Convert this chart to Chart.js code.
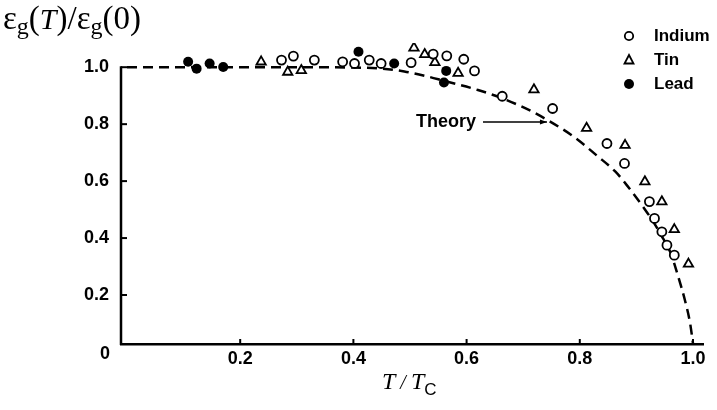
<!DOCTYPE html>
<html>
<head>
<meta charset="utf-8">
<script src="https://cdn.jsdelivr.net/npm/chart.js@4.4.0/dist/chart.umd.min.js"></script>
<style>
  html, body { margin: 0; padding: 0; background: #fff; }
</style>
</head>
<body>
<canvas id="gapchart" width="717" height="410"></canvas>
<script>
// reduced temperature T/Tc and gap ratio Eg(T)/Eg(0)
var indiumT   = [0.273, 0.294, 0.331, 0.381, 0.402, 0.428, 0.449, 0.502, 0.541, 0.565, 0.595, 0.614, 0.663, 0.752, 0.848, 0.879, 0.923, 0.932, 0.945, 0.954, 0.967];
var indiumGap = [1.025, 1.039, 1.025, 1.019, 1.013, 1.025, 1.013, 1.016, 1.046, 1.040, 1.028, 0.987, 0.898, 0.855, 0.732, 0.662, 0.528, 0.469, 0.422, 0.375, 0.340];

var tinT   = [0.237, 0.284, 0.308, 0.507, 0.526, 0.544, 0.585, 0.719, 0.812, 0.880, 0.915, 0.945, 0.967, 0.992];
var tinGap = [1.019, 0.983, 0.989, 1.068, 1.045, 1.017, 0.979, 0.921, 0.786, 0.726, 0.598, 0.528, 0.430, 0.309];

var leadT   = [0.108, 0.123, 0.146, 0.170, 0.409, 0.472, 0.564, 0.560];
var leadGap = [1.019, 0.995, 1.013, 1.001, 1.054, 1.013, 0.987, 0.946];

// dashed BCS curve
var theoryT   = [0, 0.1, 0.2, 0.3, 0.4, 0.45, 0.49, 0.53, 0.56, 0.62, 0.66, 0.71, 0.745, 0.79, 0.83, 0.863, 0.883, 0.916, 0.93, 0.942, 0.96, 0.974, 0.986, 0.995, 1.0];
var theoryGap = [1, 1, 1, 1, 0.999, 0.995, 0.985, 0.968, 0.952, 0.92, 0.893, 0.85, 0.812, 0.755, 0.69, 0.633, 0.586, 0.498, 0.457, 0.416, 0.35, 0.264, 0.18, 0.1, 0.03];

var xTicks = [0.2, 0.4, 0.6, 0.8, 1.0];
var yTicks = [0.2, 0.4, 0.6, 0.8, 1.0];

var seriesNames = ["Indium", "Tin", "Lead"];

function pts(xs, ys) {
  return xs.map(function (x, i) { return { x: x, y: ys[i] }; });
}

var tickFont = { family: "Liberation Sans", size: 18, weight: "bold" };

// axis line, titles, legend, label and inner tick marks
var extras = {
  id: "extras",
  afterDraw: function (chart) {
    var ctx = chart.ctx;
    var xs = chart.scales.x, ys = chart.scales.y;
    var area = chart.chartArea;
    var top = ys.getPixelForValue(1.0);
    ctx.save();
    ctx.strokeStyle = "#000";
    ctx.fillStyle = "#000";

    // y axis stops at 1.0
    ctx.lineWidth = 2.5;
    ctx.beginPath(); ctx.moveTo(area.left, area.bottom + 1); ctx.lineTo(area.left, top - 1); ctx.stroke();

    // tick marks pointing into the plot
    ctx.lineWidth = 2;
    xTicks.forEach(function (v) {
      var px = xs.getPixelForValue(v);
      ctx.beginPath(); ctx.moveTo(px, area.bottom); ctx.lineTo(px, area.bottom - 5); ctx.stroke();
    });
    yTicks.forEach(function (v) {
      var py = ys.getPixelForValue(v);
      ctx.beginPath(); ctx.moveTo(area.left, py); ctx.lineTo(area.left + 6, py); ctx.stroke();
    });

    // origin label
    ctx.font = "bold 18px 'Liberation Sans'";
    ctx.textAlign = "center";
    ctx.textBaseline = "middle";
    ctx.fillText("0", 105, 354);

    // y title: Eg(T)/Eg(0)
    ctx.textAlign = "left";
    ctx.textBaseline = "alphabetic";
    var x = 3, base = 29;
    function put(txt, font, dy) {
      ctx.font = font;
      ctx.fillText(txt, x, base + (dy || 0));
      x += ctx.measureText(txt).width;
    }
    var big = "33px 'Liberation Serif'", sub = "24px 'Liberation Serif'", it = "italic 30px 'Liberation Serif'";
    put("\u03b5", big); put("g", sub, 5); put("(", big); put("T", it); put(")", big); put("/", big);
    put("\u03b5", big); put("g", sub, 5); put("(0)", big);

    // x title: T/Tc
    x = 382; base = 389;
    put("T", "italic 24px 'Liberation Serif'");
    put(" / ", "italic 20px 'Liberation Serif'");
    put("T", "italic 24px 'Liberation Serif'");
    put("C", "17px 'Liberation Sans'", 6);

    // legend
    var lx = 629, rows = [36, 60, 84];
    ctx.lineWidth = 1.8;
    ctx.beginPath(); ctx.arc(lx, rows[0], 4.2, 0, Math.PI * 2); ctx.stroke();
    ctx.beginPath();
    ctx.moveTo(lx, rows[1] - 5); ctx.lineTo(lx + 4.5, rows[1] + 3.5); ctx.lineTo(lx - 4.5, rows[1] + 3.5); ctx.closePath(); ctx.stroke();
    ctx.beginPath(); ctx.arc(lx, rows[2], 5, 0, Math.PI * 2); ctx.fill();
    ctx.font = "bold 17px 'Liberation Sans'";
    ctx.textBaseline = "middle";
    seriesNames.forEach(function (n, i) { ctx.fillText(n, 654, rows[i]); });

    // Theory pointer
    var tipX = xs.getPixelForValue(0.742), tipY = ys.getPixelForValue(0.808);
    ctx.textAlign = "right";
    ctx.font = "bold 18px 'Liberation Sans'";
    ctx.fillText("Theory", 476, tipY);
    ctx.lineWidth = 1.5;
    ctx.beginPath(); ctx.moveTo(483, tipY); ctx.lineTo(tipX, tipY); ctx.stroke();
    ctx.beginPath(); ctx.moveTo(tipX, tipY); ctx.lineTo(tipX - 7, tipY - 2.5); ctx.lineTo(tipX - 7, tipY + 2.5); ctx.closePath(); ctx.fill();
    ctx.restore();
  }
};

new Chart(document.getElementById("gapchart"), {
  type: "scatter",
  data: {
    datasets: [
      { label: "Indium", data: pts(indiumT, indiumGap), pointStyle: "circle", pointRadius: 4.5, pointBorderWidth: 1.8,
        pointBorderColor: "#000", pointBackgroundColor: "#fff", order: 1 },
      { label: "Tin", data: pts(tinT, tinGap), pointStyle: "triangle", pointRadius: 5.4, pointBorderWidth: 1.8,
        pointBorderColor: "#000", pointBackgroundColor: "#fff", order: 1 },
      { label: "Lead", data: pts(leadT, leadGap), pointStyle: "circle", pointRadius: 5, pointBorderWidth: 0,
        pointBorderColor: "#000", pointBackgroundColor: "#000", order: 1 },
      { label: "Theory", data: pts(theoryT, theoryGap), showLine: true, pointRadius: 0, borderColor: "#000",
        borderWidth: 2.5, borderDash: [10, 6], cubicInterpolationMode: "monotone", order: 5 }
    ]
  },
  options: {
    responsive: false,
    animation: false,
    layout: { padding: { top: 43, right: 14, left: 0, bottom: 0 } },
    plugins: { legend: { display: false }, tooltip: { enabled: false } },
    scales: {
      x: {
        type: "linear", min: -0.0106, max: 1.0177,
        afterBuildTicks: function (s) { s.ticks = xTicks.map(function (v) { return { value: v }; }); },
        afterFit: function (s) { s.height = 66; },
        grid: { display: false, drawTicks: false },
        border: { display: true, color: "#000", width: 2.5 },
        ticks: { color: "#000", font: tickFont, padding: 4, maxRotation: 0, autoSkip: false,
          callback: function (v) { return v.toFixed(1); } }
      },
      y: {
        type: "linear", min: 0.028, max: 1.085,
        afterBuildTicks: function (s) { s.ticks = yTicks.map(function (v) { return { value: v }; }); },
        afterFit: function (s) { s.width = 121; },
        grid: { display: false, drawTicks: false },
        border: { display: false },
        ticks: { color: "#000", font: tickFont, padding: 12,
          callback: function (v) { return v.toFixed(1); } }
      }
    }
  },
  plugins: [extras]
});
</script>
</body>
</html>
